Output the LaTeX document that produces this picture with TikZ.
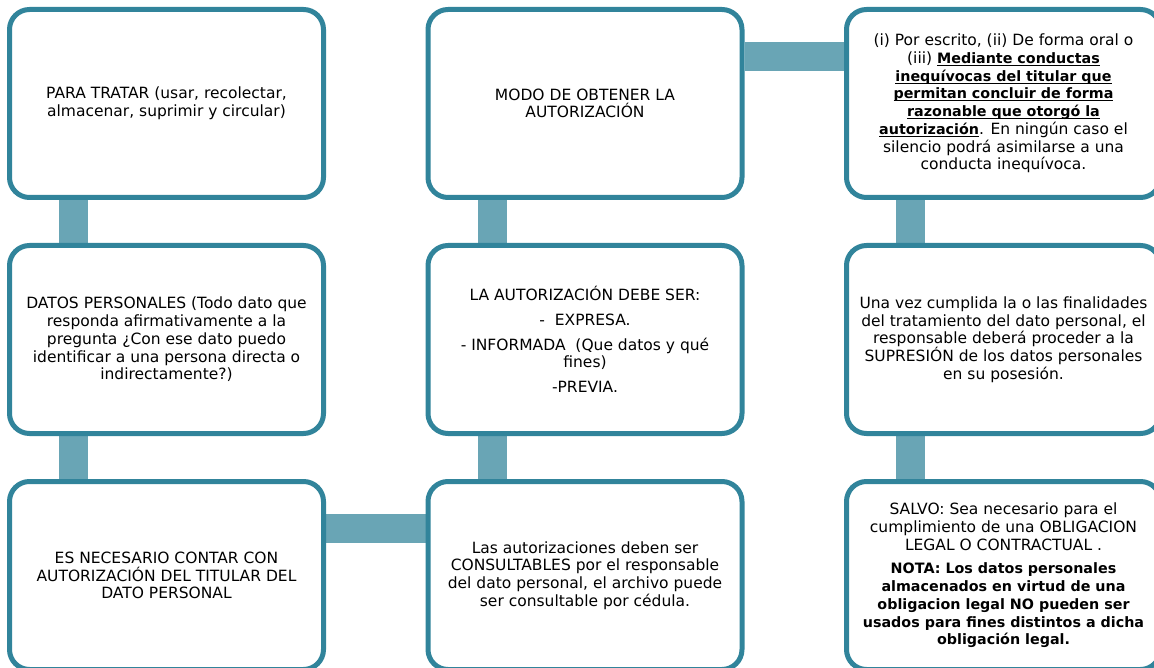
\documentclass[tikz,border=0pt]{standalone}
\usepackage{fontspec}
\setmainfont{DejaVu Sans}
\usetikzlibrary{positioning,backgrounds}
\definecolor{borde}{RGB}{49,132,155}
\definecolor{tealclaro}{RGB}{105,165,181}
\newcommand\subr[1]{\setbox0\hbox{#1}\rlap{\rule[-2.4pt]{\wd0}{1.1pt}}\box0}
\newcommand\negr[1]{{\fontsize{14.3}{17.7}\selectfont\bfseries #1}}
\tikzset{
  caja/.style = {draw=borde, line width=5pt, fill=white, rounded corners=20pt,
    minimum width=314pt, minimum height=188pt, align=center, inner sep=4pt,
    font=\fontsize{15.5}{17.7}\selectfont},% caja con texto
  conector/.style = {draw=tealclaro, line width=29pt}% barra entre cajas
}

\begin{document}
\begin{tikzpicture}[node distance=43pt and 99.5pt]
\useasboundingbox (0,0) rectangle (1154pt,-668pt);
\clip (0,0) rectangle (1154pt,-668pt);
% columna izquierda
\node [caja] (para) at (166.5pt,-103.5pt)
  {PARA TRATAR (usar, recolectar,\\ almacenar, suprimir y circular)};
\node [caja, below=of para] (datos)
  {DATOS PERSONALES (Todo dato que\\ responda afirmativamente a la\\
   pregunta ¿Con ese dato puedo\\ identificar a una persona directa o\\
   indirectamente?)};
\node [caja, below=of datos] (necesario)
  {ES NECESARIO CONTAR CON\\ AUTORIZACIÓN DEL TITULAR DEL\\ DATO PERSONAL};
% columna central
\node [caja, right=of necesario] (consulta)
  {Las autorizaciones deben ser\\ CONSULTABLES por el responsable\\
   del dato personal, el archivo puede\\ ser consultable por cédula.};
\node [caja, above=of consulta] (debe)
  {LA AUTORIZACIÓN DEBE SER:\\[7pt] -\ \ EXPRESA.\\[7pt]
   - INFORMADA\ \ (Que datos y qué\\ fines)\\[7pt] -PREVIA.};
\node [caja, above=of debe] (modo)
  {MODO DE OBTENER LA\\ AUTORIZACIÓN};
% columna derecha
\node [caja, right=of modo] (formas)
  {(i) Por escrito, (ii) De forma oral o\\
   (iii) \negr{\subr{Mediante conductas}}\\
   \negr{\subr{inequívocas del titular que}}\\
   \negr{\subr{permitan concluir de forma}}\\
   \negr{\subr{razonable que otorgó la}}\\
   \negr{\subr{autorización}}. En ningún caso el\\
   silencio podrá asimilarse a una\\ conducta inequívoca.};
\node [caja, below=of formas] (supresion)
  {Una vez cumplida la o las finalidades\\ del tratamiento del dato personal, el\\
   responsable deberá proceder a la\\ SUPRESIÓN de los datos personales\\
   en su posesión.};
\node [caja, below=of supresion] (salvo)
  {SALVO: Sea necesario para el\\ cumplimiento de una OBLIGACION\\
   LEGAL O CONTRACTUAL .\\[6pt]
   \negr{NOTA: Los datos personales}\\ \negr{almacenados en virtud de una}\\
   \negr{obligacion legal NO pueden ser}\\ \negr{usados para fines distintos a dicha}\\
   \negr{obligación legal.}};

\begin{scope}[on background layer]
\draw [conector] ([xshift=66.5pt]para.south west) -- ([xshift=66.5pt]datos.north west);
\draw [conector] ([xshift=66.5pt]datos.south west) -- ([xshift=66.5pt]necesario.north west);
\draw [conector] ([yshift=-49.5pt]necesario.north east) -- ([yshift=-49.5pt]consulta.north west);
\draw [conector] ([xshift=66.5pt]consulta.north west) -- ([xshift=66.5pt]debe.south west);
\draw [conector] ([xshift=66.5pt]debe.north west) -- ([xshift=66.5pt]modo.south west);
\draw [conector] ([yshift=-49.5pt]modo.north east) -- ([yshift=-49.5pt]formas.north west);
\draw [conector] ([xshift=66.5pt]formas.south west) -- ([xshift=66.5pt]supresion.north west);
\draw [conector] ([xshift=66.5pt]supresion.south west) -- ([xshift=66.5pt]salvo.north west);
\end{scope}
\end{tikzpicture}
\end{document}
